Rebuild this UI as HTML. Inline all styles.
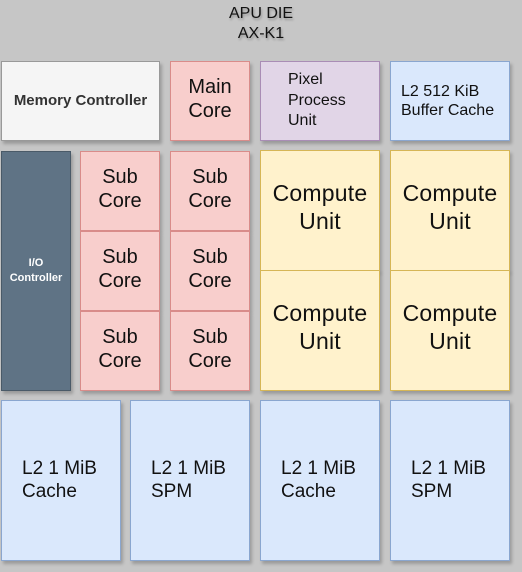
<!DOCTYPE html>
<html><head><meta charset="utf-8"><style>
html,body{margin:0;padding:0;}
body{width:522px;height:572px;background:#c6c6c6;position:relative;overflow:hidden;font-family:"Liberation Sans",sans-serif;color:#111;}
.b{position:absolute;box-sizing:border-box;border:1.5px solid;box-shadow:2px 3px 3px rgba(0,0,0,0.22);display:flex;align-items:center;justify-content:center;text-align:center;line-height:1.2;}
.r{background:#f8cecc;border-color:#d98c8a;font-size:20px;padding-bottom:4px;}
.y{background:#fff2cc;border-color:#d6b656;font-size:23px;padding-bottom:6px;letter-spacing:0.2px;}
.bl{background:#dae8fc;border-color:#8aa6cf;}
.t{position:absolute;left:0;width:100%;text-align:center;}
</style></head><body>
<div class="t" style="top:4px;font-size:16px;line-height:20px;text-shadow:1px 2px 2px rgba(0,0,0,0.25);">APU DIE<br>AX-K1</div>

<div class="b" style="left:1px;top:61px;width:159px;height:80px;background:#f5f5f5;border-color:#999;font-weight:bold;font-size:15px;color:#333;">Memory Controller</div>
<div class="b r" style="left:170px;top:61px;width:80px;height:80px;">Main<br>Core</div>
<div class="b" style="left:260px;top:61px;width:120px;height:80px;background:#e1d5e7;border-color:#a98db5;font-size:16px;justify-content:flex-start;text-align:left;padding-left:27px;line-height:1.3;">Pixel<br>Process<br>Unit</div>
<div class="b bl" style="left:390px;top:61px;width:120px;height:80px;font-size:16px;justify-content:flex-start;text-align:left;padding-left:10px;">L2 512 KiB<br>Buffer Cache</div>

<div class="b" style="left:1px;top:151px;width:70px;height:240px;background:#5f7385;border-color:#4a5a68;color:#fff;font-weight:bold;font-size:11px;line-height:1.35;">I/O<br>Controller</div>

<div class="b r" style="left:80px;top:151px;width:80px;height:80px;">Sub<br>Core</div>
<div class="b r" style="left:80px;top:231px;width:80px;height:80px;">Sub<br>Core</div>
<div class="b r" style="left:80px;top:311px;width:80px;height:80px;">Sub<br>Core</div>
<div class="b r" style="left:170px;top:151px;width:80px;height:80px;">Sub<br>Core</div>
<div class="b r" style="left:170px;top:231px;width:80px;height:80px;">Sub<br>Core</div>
<div class="b r" style="left:170px;top:311px;width:80px;height:80px;">Sub<br>Core</div>

<div class="b y" style="left:260px;top:150px;width:120px;height:121px;">Compute<br>Unit</div>
<div class="b y" style="left:260px;top:270px;width:120px;height:121px;">Compute<br>Unit</div>
<div class="b y" style="left:390px;top:150px;width:120px;height:121px;">Compute<br>Unit</div>
<div class="b y" style="left:390px;top:270px;width:120px;height:121px;">Compute<br>Unit</div>

<div class="b bl" style="left:1px;top:400px;width:120px;height:161px;font-size:19px;justify-content:flex-start;text-align:left;padding-left:20px;">L2 1 MiB<br>Cache</div>
<div class="b bl" style="left:130px;top:400px;width:120px;height:161px;font-size:19px;justify-content:flex-start;text-align:left;padding-left:20px;">L2 1 MiB<br>SPM</div>
<div class="b bl" style="left:260px;top:400px;width:120px;height:161px;font-size:19px;justify-content:flex-start;text-align:left;padding-left:20px;">L2 1 MiB<br>Cache</div>
<div class="b bl" style="left:390px;top:400px;width:120px;height:161px;font-size:19px;justify-content:flex-start;text-align:left;padding-left:20px;">L2 1 MiB<br>SPM</div>
</body></html>
